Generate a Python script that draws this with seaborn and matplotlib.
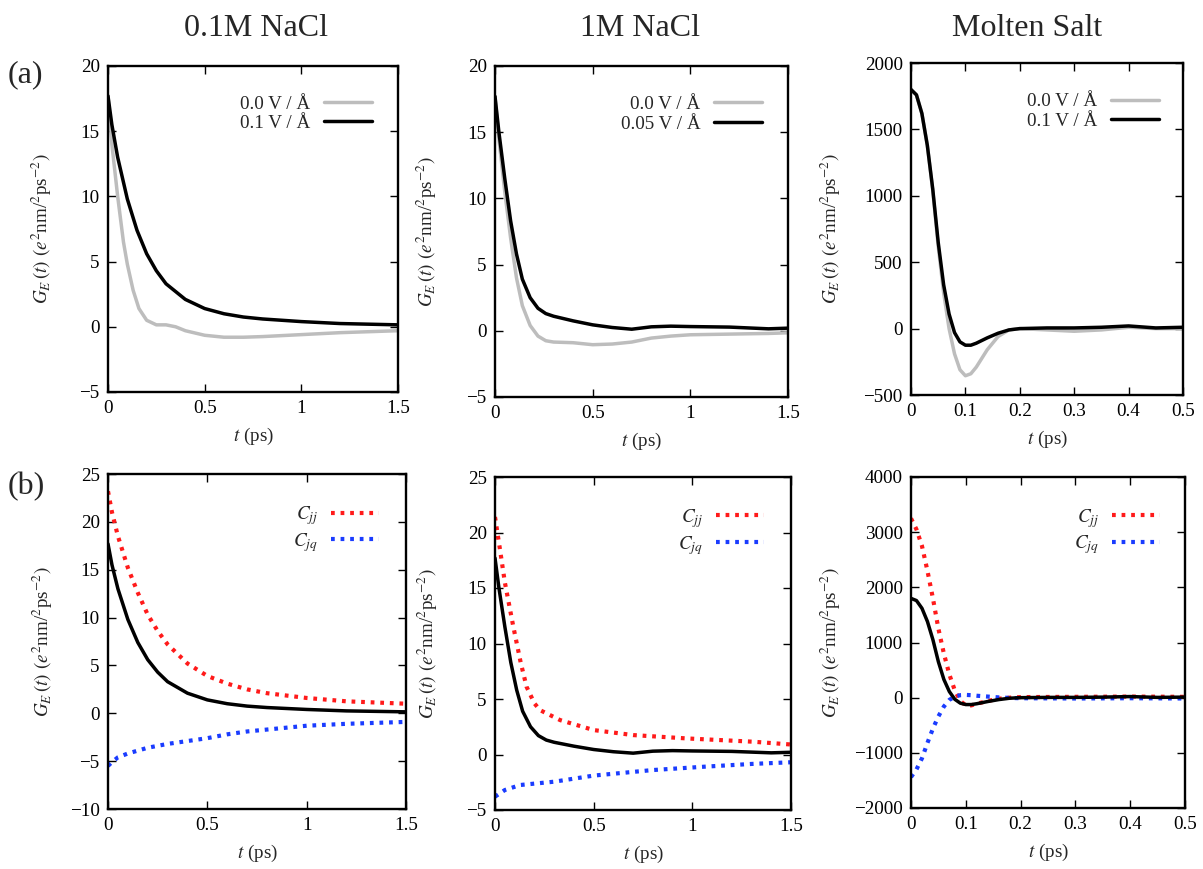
import numpy as np
import pandas as pd
import matplotlib
matplotlib.use("Agg")
import matplotlib.pyplot as plt
import seaborn as sns

# ---------------- data ----------------
col_titles = ["0.1M NaCl", "1M NaCl", "Molten Salt"]
row_labels = ["(a)", "(b)"]

# 0.1M NaCl
t_a1_black = [0, 0.02, 0.05, 0.1, 0.15, 0.2, 0.25, 0.3, 0.4, 0.5, 0.6, 0.7, 0.8, 1.0, 1.2, 1.5]
g_a1_black = [17.7, 15.5, 13.0, 9.8, 7.4, 5.6, 4.3, 3.3, 2.1, 1.4, 1.0, 0.75, 0.6, 0.4, 0.25, 0.15]
t_a1_gray = [0, 0.02, 0.05, 0.08, 0.1, 0.13, 0.16, 0.2, 0.25, 0.3, 0.35, 0.4, 0.5, 0.6, 0.7, 0.8, 1.0, 1.2, 1.5]
g_a1_gray = [17.7, 14.0, 10.0, 6.5, 4.8, 2.8, 1.4, 0.5, 0.15, 0.15, 0.0, -0.3, -0.65, -0.8, -0.8, -0.75, -0.6, -0.45, -0.3]

t_b1_red = [0, 0.02, 0.05, 0.1, 0.15, 0.2, 0.25, 0.3, 0.4, 0.5, 0.6, 0.7, 0.8, 1.0, 1.2, 1.5]
c_b1_jj = [23.2, 21.0, 18.5, 15.2, 12.6, 10.3, 8.6, 7.2, 5.2, 3.9, 3.1, 2.5, 2.1, 1.6, 1.25, 1.0]
c_b1_jq = [-5.5, -5.1, -4.6, -4.2, -3.9, -3.6, -3.4, -3.2, -2.9, -2.6, -2.2, -1.9, -1.7, -1.3, -1.1, -0.9]

# 1M NaCl
t_a2 = [0, 0.02, 0.05, 0.08, 0.11, 0.14, 0.18, 0.22, 0.26, 0.3, 0.4, 0.5, 0.6, 0.7, 0.8, 0.9, 1.0, 1.2, 1.4, 1.5]
g_a2_black = [17.7, 15.0, 11.5, 8.3, 5.8, 3.9, 2.5, 1.7, 1.3, 1.1, 0.75, 0.45, 0.25, 0.12, 0.3, 0.35, 0.32, 0.28, 0.15, 0.2]
g_a2_gray = [17.7, 14.5, 10.5, 7.0, 4.0, 1.9, 0.4, -0.4, -0.75, -0.85, -0.9, -1.05, -1.0, -0.85, -0.55, -0.4, -0.3, -0.25, -0.2, -0.15]

t_b2_red = [0, 0.025, 0.05, 0.093, 0.13, 0.16, 0.2, 0.228, 0.33, 0.5, 0.7, 0.97, 1.31, 1.5]
c_b2_jj = [21.4, 18.5, 15.5, 11.5, 8.3, 6.1, 4.6, 4.0, 3.1, 2.2, 1.75, 1.45, 1.15, 0.9]
t_b2_blue = [0, 0.05, 0.127, 0.3, 0.5, 0.8, 1.06, 1.3, 1.5]
c_b2_jq = [-3.8, -3.2, -2.75, -2.45, -1.9, -1.4, -1.1, -0.85, -0.7]

# Molten salt
t_a3 = [0, 0.01, 0.02, 0.03, 0.04, 0.05, 0.06, 0.07, 0.08, 0.09, 0.1, 0.11, 0.12, 0.14, 0.16, 0.18, 0.2, 0.25, 0.3, 0.35, 0.4, 0.45, 0.5]
g_a3_black = [1800, 1760, 1620, 1380, 1050, 650, 330, 110, -30, -100, -125, -125, -110, -70, -35, -10, 0, 5, 5, 10, 20, 5, 10]
g_a3_gray = [1800, 1760, 1620, 1380, 1040, 620, 270, 0, -190, -310, -355, -340, -290, -160, -60, -10, 0, -10, -20, -10, 10, 0, 0]

t_b3 = [0, 0.01, 0.02, 0.03, 0.04, 0.05, 0.06, 0.07, 0.08, 0.09, 0.1, 0.11, 0.12, 0.14, 0.16, 0.18, 0.2, 0.3, 0.4, 0.5]
c_b3_jj = [3250, 3050, 2750, 2300, 1800, 1250, 800, 420, 130, -60, -140, -140, -110, -60, -20, 0, 10, 15, 20, 15]
c_b3_jq = [-1440, -1300, -1100, -820, -560, -340, -160, -40, 20, 45, 50, 45, 35, 20, 5, -5, -10, -15, -10, -15]

# legend labels
leg_a = [["0.0 V / Å", "0.1 V / Å"], ["0.0 V / Å", "0.05 V / Å"], ["0.0 V / Å", "0.1 V / Å"]]
leg_b = [r"$C_{jj}$", r"$C_{jq}$"]

# ticks
xt_nacl = [0, 0.5, 1, 1.5]
xtl_nacl = ["0", "0.5", "1", "1.5"]
xt_molten = [0, 0.1, 0.2, 0.3, 0.4, 0.5]
xtl_molten = ["0", "0.1", "0.2", "0.3", "0.4", "0.5"]
yt_a_nacl = [-5, 0, 5, 10, 15, 20]
yt_a_molten = [-500, 0, 500, 1000, 1500, 2000]
yt_b1 = [-10, -5, 0, 5, 10, 15, 20, 25]
yt_b2 = [-5, 0, 5, 10, 15, 20, 25]
yt_b3 = [-2000, -1000, 0, 1000, 2000, 3000, 4000]

# ---------------- style ----------------
sns.set_style("ticks")
plt.rcParams["font.family"] = ["Liberation Serif", "DejaVu Serif"]
plt.rcParams["mathtext.fontset"] = "stix"
plt.rcParams["axes.linewidth"] = 1.7

fig = plt.figure(figsize=(12.03, 8.69), dpi=100)

W, H = 1203, 869
def add_ax(l, r, t, b):
    return fig.add_axes([l / W, 1 - b / H, (r - l) / W, (b - t) / H])

boxes = {
    "a1": (108, 398, 66, 392),
    "a2": (495, 788, 66, 397),
    "a3": (911, 1183, 63, 395),
    "b1": (108, 406, 474, 809),
    "b2": (495, 791, 477, 810),
    "b3": (911, 1185, 477, 808),
}
axs = {k: add_ax(*v) for k, v in boxes.items()}

GRAY = "#bdbdbd"
LW = 2.5
DOT = (0, (0.9, 1.4))
FS = 13.8

def plot(ax, x, y, color, label, ls="-", lw=LW):
    sns.lineplot(x=x, y=y, ax=ax, color=color, lw=lw, linestyle=ls, label=label,
                 estimator=None, sort=False)

# top row
plot(axs["a1"], t_a1_gray, g_a1_gray, GRAY, leg_a[0][0])
plot(axs["a1"], t_a1_black, g_a1_black, "black", leg_a[0][1])
plot(axs["a2"], t_a2, g_a2_gray, GRAY, leg_a[1][0])
plot(axs["a2"], t_a2, g_a2_black, "black", leg_a[1][1])
plot(axs["a3"], t_a3, g_a3_gray, GRAY, leg_a[2][0])
plot(axs["a3"], t_a3, g_a3_black, "black", leg_a[2][1])

# bottom row
plot(axs["b1"], t_b1_red, c_b1_jj, "#ff1a1a", leg_b[0], ls=DOT, lw=3.0)
plot(axs["b1"], t_b1_red, c_b1_jq, "#1a3cff", leg_b[1], ls=DOT, lw=3.0)
plot(axs["b1"], t_a1_black, g_a1_black, "black", None)
plot(axs["b2"], t_b2_red, c_b2_jj, "#ff1a1a", leg_b[0], ls=DOT, lw=3.0)
plot(axs["b2"], t_b2_blue, c_b2_jq, "#1a3cff", leg_b[1], ls=DOT, lw=3.0)
plot(axs["b2"], t_a2, g_a2_black, "black", None)
plot(axs["b3"], t_b3, c_b3_jj, "#ff1a1a", leg_b[0], ls=DOT, lw=3.0)
plot(axs["b3"], t_b3, c_b3_jq, "#1a3cff", leg_b[1], ls=DOT, lw=3.0)
plot(axs["b3"], t_a3, g_a3_black, "black", None)

ylab = r"$G_E\,(t)$ $(e^2$nm/$^2$ps$^{-2})$"
xlab = r"$t$ (ps)"

cfg = {
    "a1": (xt_nacl, xtl_nacl, (0, 1.5), yt_a_nacl, (-5, 20), -0.185),
    "a2": (xt_nacl, xtl_nacl, (0, 1.5), yt_a_nacl, (-5, 20), -0.19),
    "a3": (xt_molten, xtl_molten, (0, 0.5), yt_a_molten, (-500, 2000), -0.25),
    "b1": (xt_nacl, xtl_nacl, (0, 1.5), yt_b1, (-10, 25), -0.178),
    "b2": (xt_nacl, xtl_nacl, (0, 1.5), yt_b2, (-5, 25), -0.186),
    "b3": (xt_molten, xtl_molten, (0, 0.5), yt_b3, (-2000, 4000), -0.248),
}
for k, (xt, xtl, xl, yt, yl, ylx) in cfg.items():
    ax = axs[k]
    ax.set_xlim(*xl)
    ax.set_ylim(*yl)
    ax.set_xticks(xt)
    ax.set_xticklabels(xtl)
    ax.set_yticks(yt)
    ax.set_yticklabels([str(v).replace("-", "\u2212") for v in yt])
    ax.tick_params(direction="in", top=True, right=True, length=6, width=1.0,
                   labelsize=FS, pad=6, colors="black")
    ax.set_xlabel(xlab, fontsize=FS, labelpad=6)
    ax.set_ylabel(ylab, fontsize=FS)
    ax.yaxis.set_label_coords(ylx, 0.5)
    for s in ax.spines.values():
        s.set_visible(True)
        s.set_color("black")
    leg = ax.legend(loc="upper right", bbox_to_anchor=(0.91, 0.91), frameon=False,
                    markerfirst=False, fontsize=FS, handlelength=2.5,
                    handletextpad=0.7, labelspacing=0.1 if k.startswith("a") else 0.2,
                    borderpad=0, borderaxespad=0)
    for txt in leg.get_texts():
        txt.set_ha("right")

for i, title in enumerate(col_titles):
    cx = [256, 640, 1027][i]
    fig.text(cx / W, 1 - 28 / H, title, ha="center", va="center", fontsize=23)
fig.text(8 / W, 1 - 75 / H, row_labels[0], ha="left", va="center", fontsize=23)
fig.text(8 / W, 1 - 487 / H, row_labels[1], ha="left", va="center", fontsize=23)

fig.savefig("out.png", dpi=100)
